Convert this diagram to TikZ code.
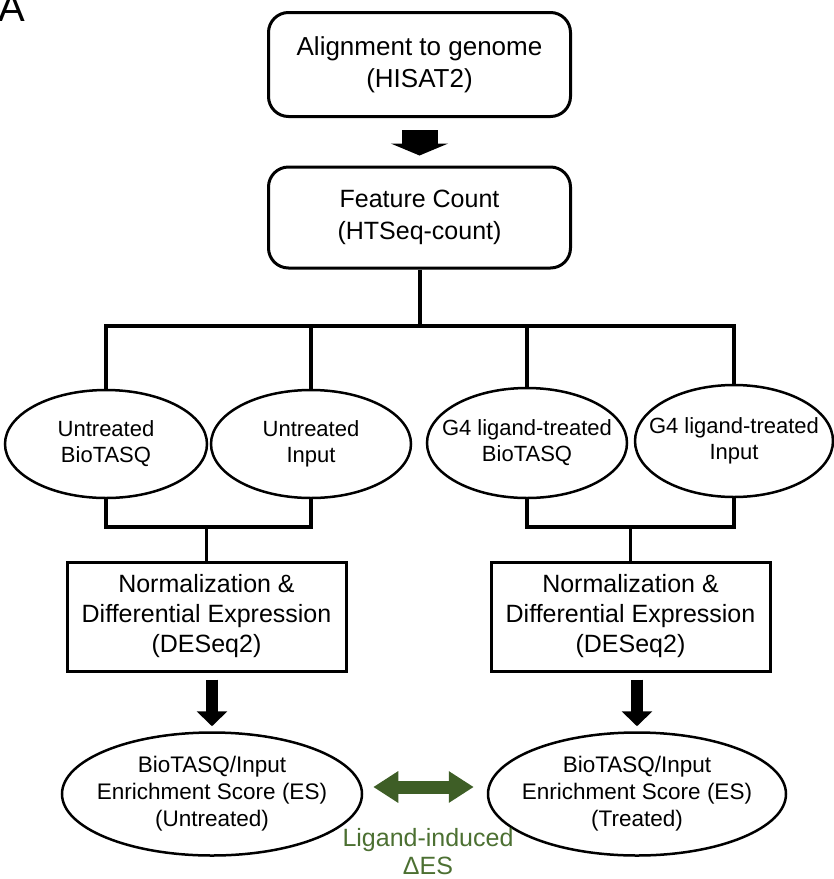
\documentclass[tikz,border=0pt]{standalone}
\usepackage{fontspec}
\setmainfont{Liberation Sans}
\usetikzlibrary{shapes.geometric,arrows.meta}
\definecolor{olivo}{RGB}{62,94,38}
\definecolor{olivotesto}{RGB}{76,112,50}
\tikzstyle{flow}=[
    x=1pt, y=-1pt,
    tool box/.style={draw, rounded corners=20pt, line width=3pt, align=center, inner sep=0pt,
        minimum width=302pt, minimum height=104pt, font={\fontsize{26}{32}\selectfont}},
    sample/.style={ellipse, draw, line width=2.5pt, align=center, inner xsep=-30pt, inner ysep=-20pt,
        minimum width=200pt, minimum height=108pt, font={\fontsize{22}{26}\selectfont}},
    deseq box/.style={draw, line width=3pt, align=center, inner sep=0pt,
        minimum width=279pt, minimum height=109pt, font={\fontsize{25}{30}\selectfont}},
    score/.style={ellipse, draw, line width=2.5pt, align=center, inner xsep=-40pt, inner ysep=-30pt,
        minimum width=300pt, minimum height=123pt, font={\fontsize{22.5}{27}\selectfont}},
    link/.style={line width=4pt},
    big arrow/.style={line width=36pt, -{Triangle[width=57pt,length=12pt]}},
    small arrow/.style={line width=12pt, -{Triangle[width=30pt,length=15pt]}},
    delta arrow/.style={draw=olivo, line width=13pt,
        {Triangle[width=30pt,length=25pt]}-{Triangle[width=30pt,length=25pt]}},
    delta label/.style={text=olivotesto, align=center, font={\fontsize{25}{28}\selectfont}}
]

\begin{document}
\begin{tikzpicture}[flow]
    \useasboundingbox (0,0) rectangle (834,879);

    \node[anchor=base west, inner sep=0pt, font={\fontsize{40}{40}\selectfont}] (panel) at (-2,21) {A};

    % pipeline head
    \node[tool box] (align) at (419.5,64.5) {Alignment to genome\\(HISAT2)};
    \node[tool box, minimum height=101pt, font={\fontsize{25}{32}\selectfont}] (feat) at (419.5,217.5) {Feature Count\\(HTSeq-count)};
    \draw[big arrow] ([yshift=-12pt]align.south) -- ([yshift=10pt]feat.north);

    % samples
    \node[sample, minimum width=202pt] (ut1) at (106,444) {Untreated\\BioTASQ};
    \node[sample] (ut2) at (311,444) {Untreated\\Input};
    \node[sample, minimum height=110pt] (tr1) at (527,443) {G4 ligand-treated\\BioTASQ};
    \node[sample, minimum width=198pt, minimum height=112pt] (tr2) at (734,441) {G4 ligand-treated\\Input};

    \coordinate (split) at (419.5,326);
    \draw[link] (feat.south) -- (split);
    \draw[link] (ut1.north) |- (split) -| (tr2.north);
    \draw[link] (ut2.north) -- (ut2.north |- split);
    \draw[link] (tr1.north) -- (tr1.north |- split);

    % DESeq2
    \node[deseq box] (norm1) at (206.5,616.5) {Normalization \&\\Differential Expression\\(DESeq2)};
    \node[deseq box] (norm2) at (630.5,616.5) {Normalization \&\\Differential Expression\\(DESeq2)};

    \coordinate (joinU) at (206.5,527);
    \coordinate (joinT) at (630.5,527);
    \draw[link] (ut1.south) |- (joinU) -| (ut2.south);
    \draw[link] (tr1.south) |- (joinT) -| (tr2.south);
    \draw[link, line width=3pt] (joinU) -- (norm1.north);
    \draw[link, line width=3pt] (joinT) -- (norm2.north);

    % enrichment scores
    \node[score] (es1) at (212,794) {BioTASQ/Input\\Enrichment Score (ES)\\(Untreated)};
    \node[score, minimum width=298pt] (es2) at (637,794) {BioTASQ/Input\\Enrichment Score (ES)\\(Treated)};

    \draw[small arrow] (es1.north |- norm1.south) ++(0,7) -- ([yshift=5pt]es1.north);
    \draw[small arrow] (es2.north |- norm2.south) ++(0,7) -- ([yshift=5pt]es2.north);

    \draw[delta arrow] ([xshift=10pt,yshift=7pt]es1.east) -- ([xshift=-13pt,yshift=7pt]es2.west);
    \node[delta label] (dlabel) at (428,852) {Ligand-induced\\ΔES};

\end{tikzpicture}
\end{document}
